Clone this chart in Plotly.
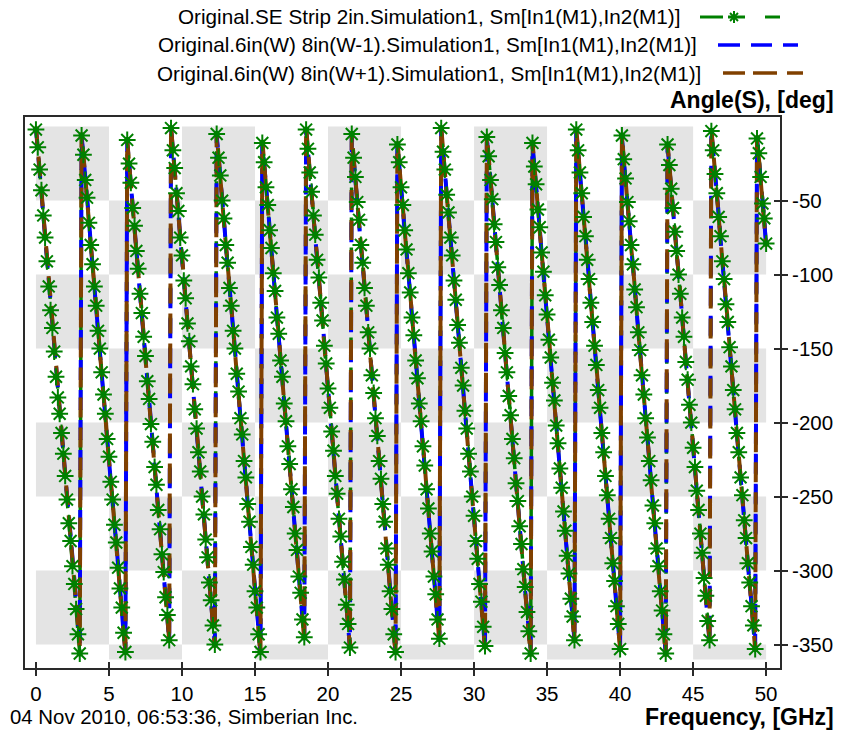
import plotly.graph_objects as go

# ---------------- data ----------------
F_START = 0.0      # GHz, first sweep point
F_STEP = 0.125     # GHz, sweep step

SERIES_NAMES = [
    "Original.SE Strip 2in.Simulation1, Sm[In1(M1),In2(M1)]",
    "Original.6in(W) 8in(W-1).Simulation1, Sm[In1(M1),In2(M1)]",
    "Original.6in(W) 8in(W+1).Simulation1, Sm[In1(M1),In2(M1)]",
]

# wrapped phase, deg (one sub-list per 0..-360 sweep of the phase)
GREEN_SEGS = [
    [-2,-14,-29,-43,-60,-75,-91,-108,-124,-136,-152,-169,-183,-194,-207,-221,-236,-252,-268,-280,-297,-309,-326,-343,-356],
    [-6,-19,-36,-48,-65,-80,-93,-108,-121,-138,-150,-166,-181,-194,-211,-223,-240,-252,-269,-281,-298,-312,-325,-342,-355],
    [-9,-25,-38,-55,-67,-84,-96,-113,-126,-142,-155,-172,-184,-201,-213,-230,-242,-259,-272,-289,-301,-318,-330,-347],
    [-1,-16,-28,-45,-57,-75,-87,-104,-116,-133,-145,-162,-174,-191,-204,-220,-233,-250,-262,-279,-291,-308,-320,-337,-350],
    [-5,-21,-33,-50,-62,-80,-92,-109,-121,-138,-150,-167,-179,-197,-208,-226,-237,-255,-267,-284,-296,-314,-325,-343,-355],
    [-11,-24,-41,-53,-70,-82,-99,-111,-129,-140,-158,-169,-187,-199,-216,-228,-245,-257,-275,-286,-304,-315,-333,-345],
    [-2,-15,-31,-44,-60,-73,-90,-102,-119,-131,-148,-160,-177,-190,-206,-219,-236,-248,-265,-277,-294,-306,-323,-336,-352],
    [-5,-21,-34,-51,-63,-80,-92,-109,-121,-139,-150,-168,-180,-197,-209,-226,-238,-255,-267,-285,-296,-314,-326,-343,-355],
    [-12,-24,-41,-53,-70,-83,-99,-112,-129,-141,-158,-170,-187,-199,-216,-229,-245,-258,-275,-287,-304,-316,-333,-346],
    [-1,-17,-29,-46,-58,-75,-87,-104,-117,-134,-146,-163,-175,-192,-204,-221,-233,-250,-263,-280,-292,-309,-321,-338,-351],
    [-7,-20,-36,-49,-66,-78,-95,-107,-124,-136,-153,-166,-182,-195,-211,-224,-241,-253,-270,-282,-299,-311,-328,-341,-356],
    [-11,-27,-39,-56,-68,-85,-98,-114,-127,-144,-156,-173,-185,-202,-214,-231,-244,-260,-273,-290,-302,-319,-331,-347],
    [-2,-16,-31,-45,-61,-74,-90,-103,-119,-132,-148,-161,-178,-190,-207,-220,-236,-249,-265,-278,-295,-307,-324,-336,-353],
    [-6,-22,-35,-51,-64,-80,-93,-110,-122,-139,-151,-168,-181,-197,-210,-226,-239,-256,-268,-285,-297,-314,-327,-343,-356],
    [-12,-26,-42,-55,-71,-84,-100,-113,-129,-142,-159,-171,-188,-200,-217,-230,-246,-259,-275,-288,-305,-317,-334,-347],
    [-3,-16,-32,-45,-61,-74,-91,-103,-120,-132,-149,-162,-178,-191,-207,-220,-237,-249,-266,-278,-295,-308,-324,-337,-353],
    [-8,-18,-34,-52,-62,-79],
]

BLUE_SEGS = [
    [-1,-16,-30,-43,-59,-74,-87,-103,-118,-130,-147,-162,-174,-191,-205,-218,-235,-249,-262,-278,-293,-306,-322,-337,-349],
    [-6,-19,-35,-50,-62,-79,-94,-106,-123,-137,-150,-167,-181,-194,-210,-225,-238,-254,-269,-281,-298,-313,-325,-342,-354],
    [-11,-24,-40,-55,-67,-84,-99,-111,-128,-142,-155,-172,-186,-199,-215,-230,-243,-259,-274,-286,-303,-318,-330,-347],
    [-1,-14,-31,-45,-58,-74,-89,-102,-118,-133,-145,-162,-177,-189,-206,-220,-233,-250,-264,-277,-293,-308,-321,-337,-350],
    [-6,-19,-36,-50,-63,-79,-94,-107,-123,-138,-150,-167,-182,-194,-211,-225,-238,-255,-269,-282,-298,-313,-326,-342,-355],
    [-11,-24,-41,-55,-68,-84,-99,-112,-128,-143,-155,-172,-187,-199,-216,-230,-243,-260,-274,-287,-303,-318,-331,-347],
    [-2,-14,-31,-46,-58,-75,-89,-102,-119,-133,-146,-162,-177,-190,-206,-221,-233,-250,-265,-277,-294,-308,-321,-338,-352],
    [-7,-19,-36,-51,-63,-80,-94,-107,-124,-138,-151,-167,-182,-195,-211,-226,-238,-255,-270,-282,-299,-313,-326,-343,-355],
    [-12,-24,-41,-56,-68,-85,-99,-112,-129,-143,-156,-172,-187,-200,-216,-231,-243,-260,-275,-287,-304,-318,-331,-348],
    [-2,-15,-31,-46,-59,-75,-90,-102,-119,-134,-146,-163,-177,-190,-207,-221,-234,-250,-265,-278,-294,-309,-321,-338,-353],
    [-7,-20,-36,-51,-64,-80,-95,-107,-124,-139,-151,-168,-182,-195,-212,-226,-239,-255,-270,-283,-299,-314,-326,-343,-356],
    [-12,-25,-41,-56,-69,-85,-100,-112,-129,-144,-156,-173,-187,-200,-217,-231,-244,-260,-275,-288,-304,-319,-331,-348],
    [-3,-15,-32,-46,-59,-76,-90,-103,-119,-134,-147,-163,-178,-190,-207,-222,-234,-251,-265,-278,-295,-309,-322,-338,-353],
    [-8,-20,-37,-51,-64,-81,-95,-108,-124,-139,-152,-168,-183,-195,-212,-227,-239,-256,-270,-283,-300,-314,-327,-343,-356],
    [-13,-25,-42,-56,-69,-86,-100,-113,-129,-144,-157,-173,-188,-200,-217,-232,-244,-261,-275,-288,-305,-319,-332,-348],
    [-3,-16,-32,-47,-59,-76,-91,-103,-120,-134,-147,-164,-178,-191,-207,-222,-235,-251,-266,-278,-295,-310,-322,-339,-353],
    [-8,-21,-37,-52,-64,-81],
]

BROWN_SEGS = [
    [0,-14,-30,-45,-57,-72,-89,-103,-116,-132,-147,-160,-176,-191,-203,-220,-235,-247,-264,-278,-291,-308,-322,-335,-351],
    [-4,-21,-35,-48,-64,-79,-92,-108,-123,-135,-152,-167,-179,-196,-210,-223,-240,-254,-267,-283,-298,-311,-327,-342,-356],
    [-9,-26,-40,-53,-69,-84,-97,-113,-128,-140,-157,-172,-184,-201,-215,-228,-245,-259,-272,-288,-303,-316,-332,-347],
    [0,-16,-30,-43,-60,-74,-87,-104,-118,-131,-147,-162,-175,-191,-206,-218,-235,-250,-262,-279,-293,-306,-323,-337,-352],
    [-4,-21,-35,-48,-65,-79,-92,-109,-123,-136,-152,-167,-180,-196,-211,-223,-240,-255,-267,-284,-298,-311,-328,-342,-357],
    [-9,-26,-40,-53,-70,-84,-97,-114,-128,-141,-157,-172,-185,-201,-216,-228,-245,-260,-272,-289,-303,-316,-333,-347],
    [0,-16,-30,-44,-60,-75,-87,-104,-119,-131,-148,-162,-175,-192,-206,-219,-235,-250,-263,-279,-294,-306,-323,-338,-352],
    [-5,-21,-35,-49,-65,-80,-92,-109,-124,-136,-153,-167,-180,-197,-211,-224,-240,-255,-268,-284,-299,-311,-328,-343,-357],
    [-10,-26,-40,-54,-70,-85,-97,-114,-129,-141,-158,-172,-185,-202,-216,-229,-245,-260,-273,-289,-304,-316,-333,-348],
    [0,-17,-30,-44,-61,-75,-88,-104,-119,-132,-148,-163,-175,-192,-207,-219,-236,-250,-263,-280,-294,-307,-323,-338,-353],
    [-5,-22,-35,-49,-66,-80,-93,-109,-124,-137,-153,-168,-180,-197,-212,-224,-241,-255,-268,-285,-299,-312,-328,-343,-358],
    [-10,-27,-40,-54,-71,-85,-98,-114,-129,-142,-158,-173,-185,-202,-217,-229,-246,-260,-273,-290,-304,-317,-333,-348],
    [-1,-17,-31,-44,-61,-76,-88,-105,-119,-132,-149,-163,-176,-192,-207,-220,-236,-251,-263,-280,-295,-307,-324,-338,-353],
    [-6,-22,-36,-49,-66,-81,-93,-110,-124,-137,-154,-168,-181,-197,-212,-225,-241,-256,-268,-285,-300,-312,-329,-343,-358],
    [-11,-27,-41,-54,-71,-86,-98,-115,-129,-142,-159,-173,-186,-202,-217,-230,-246,-261,-273,-290,-305,-317,-334,-348],
    [-1,-18,-31,-45,-61,-76,-89,-105,-120,-132,-149,-164,-176,-193,-207,-220,-237,-251,-264,-280,-295,-308,-324,-339,-353],
    [-6,-23,-36,-50,-66,-81],
]

X_TICKS = [0, 5, 10, 15, 20, 25, 30, 35, 40, 45, 50]
X_TICK_TEXT = ["0", "5", "10", "15", "20", "25", "30", "35", "40", "45", "50"]
Y_TICKS = [-50, -100, -150, -200, -250, -300, -350]
Y_TICK_TEXT = ["-50", "-100", "-150", "-200", "-250", "-300", "-350"]

# background checkerboard cells (GHz / deg edges)
BAND_X = [0, 5, 10, 15, 20, 25, 30, 35, 40, 45, 50]
BAND_Y = [0, -50, -100, -150, -200, -250, -300, -350, -360]

# ---------------- styling ----------------
GREEN = "#008000"
BLUE = "#0000FF"
BROWN = "#804000"
GREY = "#E4E4E4"
FRAME = "#2a2a2a"
FONT = "Liberation Sans, Arial, sans-serif"

W, H = 846, 731
ML, MR, MT, MB = 25, 66, 117, 63
PW, PH = W - ML - MR, H - MT - MB


def flat(segs):
    return [v for s in segs for v in s]


def sweep(n):
    return [F_START + F_STEP * i for i in range(n)]


def px(x):
    return (x - ML) / PW


def py(y):
    return (H - MB - y) / PH


green = flat(GREEN_SEGS)
blue = flat(BLUE_SEGS)
brown = flat(BROWN_SEGS)

DASH = "20px,10px"

fig = go.Figure()
fig.add_trace(go.Scatter(x=sweep(len(green)), y=green, mode="lines",
                         line=dict(color=GREEN, width=3.5, dash=DASH),
                         name=SERIES_NAMES[0], showlegend=False, hoverinfo="skip"))
fig.add_trace(go.Scatter(x=sweep(len(blue)), y=blue, mode="lines",
                         line=dict(color=BLUE, width=4, dash=DASH),
                         name=SERIES_NAMES[1], showlegend=False, hoverinfo="skip"))
fig.add_trace(go.Scatter(x=sweep(len(brown)), y=brown, mode="lines",
                         line=dict(color=BROWN, width=4, dash=DASH),
                         name=SERIES_NAMES[2], showlegend=False, hoverinfo="skip"))
fig.add_trace(go.Scatter(x=sweep(len(green)), y=green, mode="markers",
                         marker=dict(symbol="asterisk-open", size=14, color=GREEN,
                                     line=dict(color=GREEN, width=2)),
                         showlegend=False, hoverinfo="skip"))
fig.add_trace(go.Scatter(x=sweep(len(green)), y=green, mode="markers",
                         marker=dict(symbol="circle", size=6, color=GREEN, line=dict(width=0)),
                         showlegend=False, hoverinfo="skip"))
# helper trace for the inner tick marks (overlay axes)
fig.add_trace(go.Scatter(x=[None], y=[None], xaxis="x2", yaxis="y2",
                         showlegend=False, hoverinfo="skip"))

shapes = []
for i in range(len(BAND_X) - 1):
    for j in range(len(BAND_Y) - 1):
        if (i + j) % 2 == 0:
            shapes.append(dict(type="rect", xref="x", yref="y",
                               x0=BAND_X[i], x1=BAND_X[i + 1],
                               y0=BAND_Y[j], y1=BAND_Y[j + 1],
                               fillcolor=GREY, line=dict(width=0), layer="below"))

# legend samples (text on the left, line sample on the right)
def seg(x0, x1, y, color, width=3.5):
    return dict(type="line", xref="paper", yref="paper",
                x0=px(x0), x1=px(x1), y0=py(y), y1=py(y),
                line=dict(color=color, width=width))


LEG_Y = [17, 45, 73]
shapes += [seg(700, 723, LEG_Y[0], GREEN, 3), seg(728, 745, LEG_Y[0], GREEN, 3),
           seg(765, 780, LEG_Y[0], GREEN, 3)]
# asterisk in the green sample
for dx0, dy0, dx1, dy1 in [(-6, 0, 6, 0), (0, -6, 0, 6), (-4, -4, 4, 4), (-4, 4, 4, -4)]:
    shapes.append(dict(type="line", xref="paper", yref="paper",
                       xsizemode="pixel", ysizemode="pixel",
                       xanchor=px(734), yanchor=py(LEG_Y[0]),
                       x0=dx0, x1=dx1, y0=dy0, y1=dy1,
                       line=dict(color=GREEN, width=2)))
shapes += [seg(718, 740, LEG_Y[1], BLUE), seg(751, 772, LEG_Y[1], BLUE), seg(783, 798, LEG_Y[1], BLUE)]
shapes += [seg(723, 745, LEG_Y[2], BROWN), seg(753, 777, LEG_Y[2], BROWN), seg(787, 803, LEG_Y[2], BROWN)]

annotations = []
for name, xr, y in zip(SERIES_NAMES, [682, 699, 703], LEG_Y):
    annotations.append(dict(text=name, xref="paper", yref="paper", x=px(xr), y=py(y),
                            xanchor="right", yanchor="middle", showarrow=False,
                            font=dict(family=FONT, size=20.7, color="#000")))
annotations.append(dict(text="<b>Angle(S), [deg]</b>", xref="paper", yref="paper",
                        x=px(836), y=py(100), xanchor="right", yanchor="middle",
                        showarrow=False, font=dict(family=FONT, size=23, color="#000")))
annotations.append(dict(text="<b>Frequency, [GHz]</b>", xref="paper", yref="paper",
                        x=px(836), y=py(717), xanchor="right", yanchor="middle",
                        showarrow=False, font=dict(family=FONT, size=23, color="#000")))
annotations.append(dict(text="04 Nov 2010, 06:53:36, Simberian Inc.", xref="paper", yref="paper",
                        x=px(8), y=py(717), xanchor="left", yanchor="middle",
                        showarrow=False, font=dict(family=FONT, size=20.4, color="#000")))

XR = [-0.75, 50.95]
YR = [-365.8, 6.5]
axis_common = dict(showgrid=False, zeroline=False, showline=True, mirror=True,
                   linecolor=FRAME, linewidth=2, ticks="outside", ticklen=6,
                   tickwidth=2, tickcolor=FRAME,
                   tickfont=dict(family=FONT, size=20.5, color="#000"))

fig.update_layout(
    width=W, height=H,
    margin=dict(l=ML, r=MR, t=MT, b=MB, pad=0),
    paper_bgcolor="white", plot_bgcolor="white",
    showlegend=False,
    xaxis=dict(range=XR, tickvals=X_TICKS, ticktext=X_TICK_TEXT, **axis_common),
    yaxis=dict(range=YR, tickvals=Y_TICKS, ticktext=Y_TICK_TEXT, side="right", **axis_common),
    xaxis2=dict(range=XR, tickvals=X_TICKS, overlaying="x", anchor="y", side="bottom",
                ticks="inside", ticklen=6, tickwidth=2, tickcolor=FRAME,
                showticklabels=False, showgrid=False, zeroline=False, showline=False),
    yaxis2=dict(range=YR, tickvals=Y_TICKS, overlaying="y", anchor="x", side="right",
                ticks="inside", ticklen=6, tickwidth=2, tickcolor=FRAME,
                showticklabels=False, showgrid=False, zeroline=False, showline=False),
    shapes=shapes,
    annotations=annotations,
)

fig.write_html("out.html",
               config={"displayModeBar": False, "staticPlot": True},
               post_script="document.body.style.margin='0';document.body.style.padding='0';"
                           "document.body.style.overflow='hidden';")
